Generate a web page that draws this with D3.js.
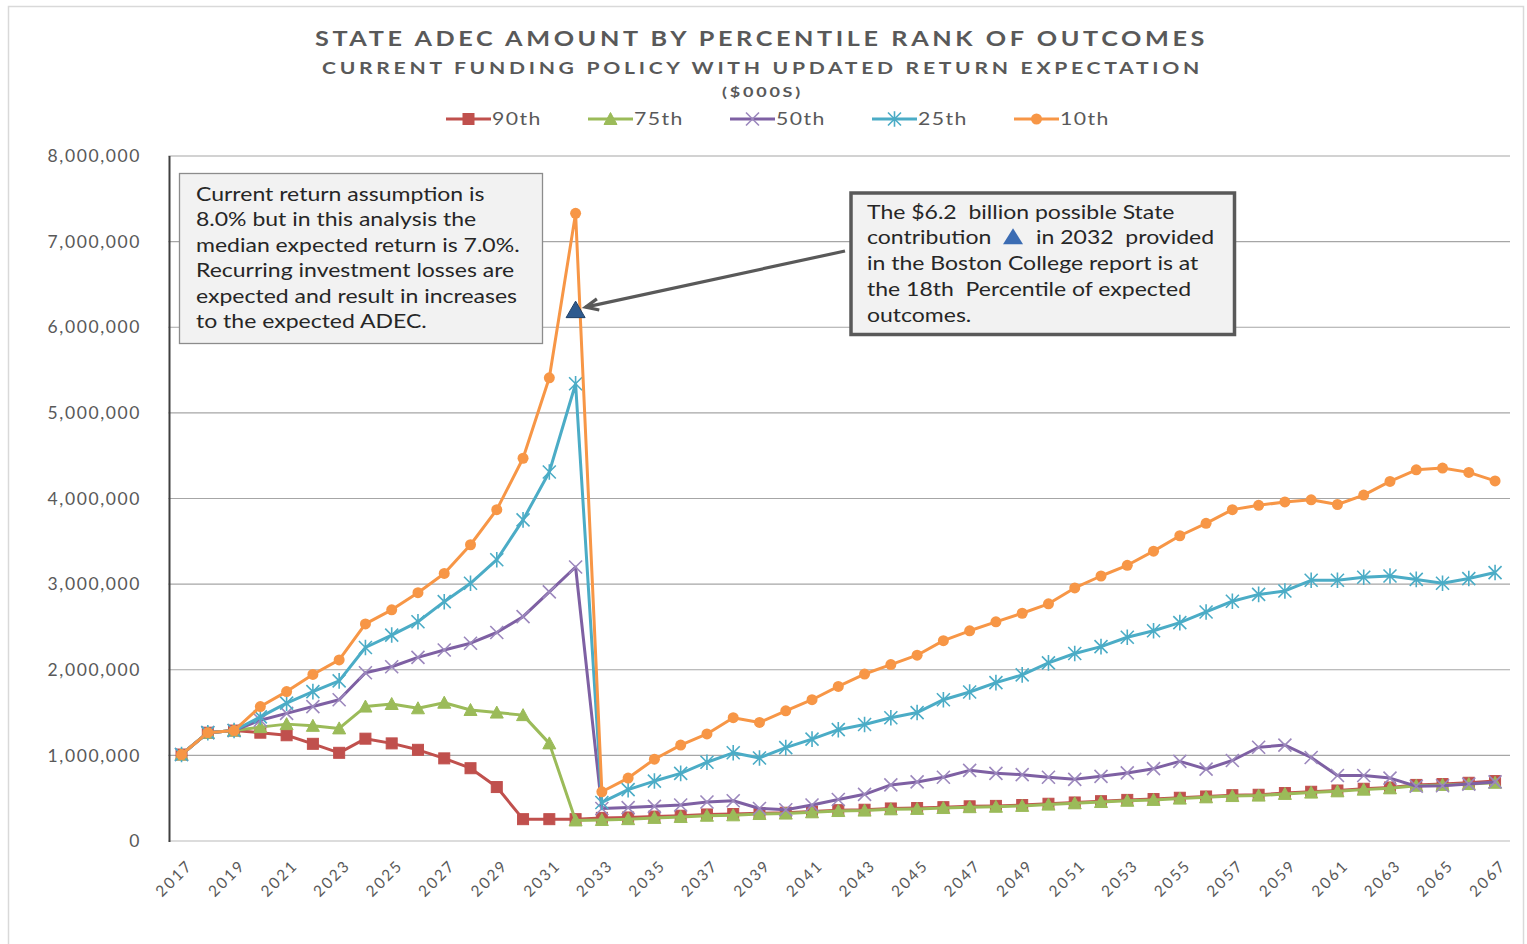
<!DOCTYPE html>
<html>
<head>
<meta charset="utf-8">
<script src="https://cdn.jsdelivr.net/npm/d3@7"></script>
<style>
  html, body { margin: 0; padding: 0; background: #ffffff; }
  svg { display: block; }
</style>
</head>
<body>
<svg id="chart" width="1527" height="944"></svg>
<script>
// ---------------- DATA ----------------
const years = [2017,2018,2019,2020,2021,2022,2023,2024,2025,2026,2027,2028,2029,2030,2031,2032,
  2033,2034,2035,2036,2037,2038,2039,2040,2041,2042,2043,2044,2045,2046,2047,2048,2049,2050,
  2051,2052,2053,2054,2055,2056,2057,2058,2059,2060,2061,2062,2063,2064,2065,2066,2067];

const p90 = [1010000,1265000,1290000,1265000,1235000,1135000,1030000,1195000,1140000,1065000,965000,850000,630000,255000,255000,255000,
  270000,275000,285000,295000,310000,315000,325000,330000,345000,360000,365000,380000,385000,395000,405000,410000,420000,435000,
  450000,465000,480000,490000,505000,520000,535000,540000,560000,575000,590000,610000,625000,655000,665000,680000,700000];

const p75 = [1010000,1265000,1290000,1330000,1365000,1345000,1315000,1570000,1600000,1550000,1615000,1530000,1500000,1470000,1140000,240000,
  245000,255000,270000,280000,295000,300000,315000,320000,335000,350000,355000,370000,375000,385000,395000,400000,410000,425000,
  440000,455000,470000,480000,495000,510000,525000,530000,550000,565000,580000,600000,615000,645000,655000,665000,680000];

const p50 = [1010000,1265000,1290000,1410000,1490000,1570000,1650000,1965000,2035000,2145000,2230000,2310000,2435000,2620000,2910000,3200000,
  380000,390000,405000,420000,455000,470000,380000,365000,420000,485000,545000,655000,690000,745000,825000,790000,775000,745000,
  720000,755000,795000,845000,930000,840000,940000,1095000,1120000,975000,765000,765000,735000,640000,645000,665000,690000];

const p25 = [1010000,1265000,1290000,1450000,1610000,1745000,1870000,2260000,2405000,2560000,2795000,3010000,3285000,3750000,4310000,5340000,
  450000,600000,700000,790000,920000,1030000,970000,1090000,1190000,1300000,1360000,1440000,1500000,1650000,1740000,1850000,1940000,2080000,
  2190000,2270000,2380000,2455000,2550000,2675000,2800000,2880000,2920000,3045000,3045000,3080000,3095000,3055000,3010000,3065000,3135000];

const p10 = [1010000,1265000,1290000,1570000,1745000,1945000,2115000,2535000,2700000,2900000,3125000,3460000,3870000,4470000,5410000,7330000,
  575000,735000,955000,1120000,1250000,1440000,1385000,1520000,1650000,1805000,1950000,2060000,2170000,2340000,2455000,2560000,2660000,2770000,
  2955000,3095000,3220000,3385000,3565000,3710000,3870000,3920000,3960000,3985000,3930000,4040000,4200000,4335000,4355000,4305000,4205000];

const seriesNames = ["90th","75th","50th","25th","10th"];
const yTicks = [0,1000000,2000000,3000000,4000000,5000000,6000000,7000000,8000000];
const xTickYears = years.filter((y,i) => i % 2 === 0);

const bcYear = 2032;
const bcValue = 6200000;

const titleText = "STATE ADEC AMOUNT BY PERCENTILE RANK OF OUTCOMES";
const subtitleText = "CURRENT FUNDING POLICY WITH UPDATED RETURN EXPECTATION";
const unitText = "($000S)";
const leftNote = ["Current return assumption is","8.0% but in this analysis the","median expected return is 7.0%.",
  "Recurring investment losses are","expected and result in increases","to the expected ADEC."];

// ---------------- STYLE ----------------
const colors = { "90th":"#c0504d", "75th":"#9bbb59", "50th":"#7e60a3", "25th":"#4bacc6", "10th":"#f79646" };
const markerKind = { "90th":"square", "75th":"triangle", "50th":"x", "25th":"star", "10th":"circle" };
const textGray = "#595959";
const font = "Lato, 'Open Sans', sans-serif";
const stretch = 1.18;

const svg = d3.select("#chart");

// outer chart border
svg.append("rect").attr("x",8.5).attr("y",6.5).attr("width",1515).attr("height",960)
  .attr("fill","#fff").attr("stroke","#d9d9d9").attr("stroke-width",1.5);

const plot = { left: 168.4, right: 1508.2, top: 156, bottom: 841 };

const x = d3.scalePoint().domain(years).range([plot.left, plot.right]).padding(0.5);
const y = d3.scaleLinear().domain([0, 8000000]).range([plot.bottom, plot.top]);

// gridlines
svg.append("g").selectAll("line").data(yTicks.filter(d => d > 0)).join("line")
  .attr("x1", plot.left).attr("x2", 1510)
  .attr("y1", d => y(d)).attr("y2", d => y(d))
  .attr("stroke","#a6a6a6").attr("stroke-width",1.2);

// x axis line
svg.append("line").attr("x1",plot.left).attr("x2",1510).attr("y1",y(0)).attr("y2",y(0))
  .attr("stroke","#d0d0d0").attr("stroke-width",1.5);

// y axis line
svg.append("line").attr("x1",169.5).attr("x2",169.5).attr("y1",plot.top).attr("y2",plot.bottom+1)
  .attr("stroke","#404040").attr("stroke-width",2);

// y tick labels
const fmt = d3.format(",");
svg.append("g").selectAll("text").data(yTicks).join("text")
  .attr("x", 141).attr("y", d => y(d)).attr("dy","0.35em")
  .attr("text-anchor","end")
  .attr("font-family", font).attr("font-size", 17.5).attr("letter-spacing", 1.6)
  .attr("fill", textGray)
  .text(d => fmt(d));

// x tick labels
svg.append("g").selectAll("text").data(xTickYears).join("text")
  .attr("transform", d => `translate(${x(d)+4},${858}) rotate(-45)`)
  .attr("text-anchor","end").attr("dy","0.75em")
  .attr("font-family", font).attr("font-size", 15.5).attr("letter-spacing", 2.2)
  .attr("fill", textGray)
  .text(d => d);

// marker generator
function drawMarker(g, kind, color, cx, cy, s) {
  s = s || 1;
  if (kind === "square") {
    g.append("rect").attr("x", cx-5.5*s).attr("y", cy-5.5*s).attr("width", 11*s).attr("height", 11*s)
      .attr("fill", color).attr("stroke", color).attr("stroke-width", 1);
  } else if (kind === "triangle") {
    g.append("path").attr("d", `M${cx},${cy-6.5*s}L${cx+6.5*s},${cy+5.5*s}L${cx-6.5*s},${cy+5.5*s}Z`)
      .attr("fill", color).attr("stroke", color).attr("stroke-width", 1);
  } else if (kind === "circle") {
    g.append("circle").attr("cx", cx).attr("cy", cy).attr("r", 5.5*s).attr("fill", color);
  } else if (kind === "x") {
    const r = 6.5*s;
    g.append("path").attr("d", `M${cx-r},${cy-r}L${cx+r},${cy+r}M${cx-r},${cy+r}L${cx+r},${cy-r}`)
      .attr("stroke", "#9c88bd").attr("stroke-width", 1.6).attr("fill","none");
  } else if (kind === "star") {
    const r = 6.5*s;
    g.append("path").attr("d", `M${cx-r},${cy-r}L${cx+r},${cy+r}M${cx-r},${cy+r}L${cx+r},${cy-r}M${cx},${cy-r*1.2}L${cx},${cy+r*1.2}`)
      .attr("stroke", color).attr("stroke-width", 1.6).attr("fill","none");
  }
}

// series
const seriesData = { "90th": p90, "75th": p75, "50th": p50, "25th": p25, "10th": p10 };
const line = d3.line().x((d,i) => x(years[i])).y(d => y(d));

seriesNames.forEach(name => {
  const vals = seriesData[name];
  const g = svg.append("g");
  g.append("path").datum(vals).attr("d", line)
    .attr("fill","none").attr("stroke", colors[name]).attr("stroke-width", 3)
    .attr("stroke-linejoin","round");
  vals.forEach((v,i) => drawMarker(g, markerKind[name], colors[name], x(years[i]), y(v)));
});

// legend
const legendItems = [
  { name: "90th", tx: 492 }, { name: "75th", tx: 634 }, { name: "50th", tx: 776 },
  { name: "25th", tx: 918 }, { name: "10th", tx: 1060 }
];
const ly = 119;
legendItems.forEach(it => {
  const g = svg.append("g");
  g.append("line").attr("x1", it.tx-46).attr("x2", it.tx-1).attr("y1", ly).attr("y2", ly)
    .attr("stroke", colors[it.name]).attr("stroke-width", 3);
  drawMarker(g, markerKind[it.name], colors[it.name], it.tx-23.5, ly);
  g.append("text").attr("transform", `translate(${it.tx},${ly}) scale(${stretch},1)`).attr("dy","0.36em")
    .attr("font-family", font).attr("font-size", 18).attr("letter-spacing", 1.2)
    .attr("fill", textGray).text(it.name);
});

// titles
svg.append("text").attr("x", 315).attr("y", 46).attr("textLength", 893).attr("lengthAdjust","spacingAndGlyphs")
  .attr("font-family", font).attr("font-weight","bold").attr("font-size", 21).attr("letter-spacing", 3)
  .attr("fill", textGray).text(titleText);
svg.append("text").attr("x", 322).attr("y", 74).attr("textLength", 881).attr("lengthAdjust","spacingAndGlyphs")
  .attr("font-family", font).attr("font-weight","bold").attr("font-size", 17).attr("letter-spacing", 3)
  .attr("fill", textGray).text(subtitleText);
svg.append("text").attr("x", 722).attr("y", 97).attr("textLength", 81).attr("lengthAdjust","spacingAndGlyphs")
  .attr("font-family", font).attr("font-weight","bold").attr("font-size", 13).attr("letter-spacing", 2)
  .attr("fill", textGray).text(unitText);

// left note box
svg.append("rect").attr("x", 179.5).attr("y", 173.5).attr("width", 363).attr("height", 170)
  .attr("fill","#f2f2f2").attr("stroke","#8c8c8c").attr("stroke-width",1.3);
svg.append("g").selectAll("text").data(leftNote).join("text")
  .attr("transform", (d,i) => `translate(196,${200.5 + i*25.5}) scale(${stretch},1)`)
  .attr("font-family", font).attr("font-size", 19.5)
  .attr("fill", "#262626").text(d => d);

// Boston College point marker
const bcx = x(bcYear), bcy = y(bcValue);
svg.append("path").attr("d", `M${bcx},${bcy-9}L${bcx+9.5},${bcy+7.5}L${bcx-9.5},${bcy+7.5}Z`)
  .attr("fill","#2e5a8e").attr("stroke","#1f3f66").attr("stroke-width",1);

// arrow
const ax1 = 845, ay1 = 251, ax2 = bcx + 10, ay2 = bcy - 3;
svg.append("line").attr("x1", ax1).attr("y1", ay1).attr("x2", ax2).attr("y2", ay2)
  .attr("stroke", "#595959").attr("stroke-width", 3.2);
{
  const ang = Math.atan2(ay1 - ay2, ax1 - ax2);
  const L = 14, w = 0.42;
  const p1 = [ax2 + L*Math.cos(ang+w), ay2 + L*Math.sin(ang+w)];
  const p2 = [ax2 + L*Math.cos(ang-w), ay2 + L*Math.sin(ang-w)];
  svg.append("path").attr("d", `M${p1[0]},${p1[1]}L${ax2},${ay2}L${p2[0]},${p2[1]}`)
    .attr("fill","none").attr("stroke","#595959").attr("stroke-width",3.2).attr("stroke-linejoin","miter");
}

// right note box
svg.append("rect").attr("x", 851).attr("y", 193).attr("width", 383.5).attr("height", 141.5)
  .attr("fill","#f2f2f2").attr("stroke","#595959").attr("stroke-width",3.5);
const rnX = 867, rnY0 = 218.5, rnDY = 25.8;
const rn = svg.append("g").attr("font-family", font).attr("font-size", 19.5).attr("fill","#262626");
function rnText(tx, ty, s) {
  rn.append("text").attr("transform", `translate(${tx},${ty}) scale(${stretch},1)`)
    .attr("xml:space","preserve").text(s);
}
rnText(rnX, rnY0, "The $6.2  billion possible State");
rnText(rnX, rnY0 + rnDY, "contribution");
svg.append("path").attr("d", `M${1013},${rnY0+rnDY-16}L${1023},${rnY0+rnDY}L${1003},${rnY0+rnDY}Z`)
  .attr("fill","#3b6cb3");
rnText(1036, rnY0 + rnDY, "in 2032  provided");
rnText(rnX, rnY0 + 2*rnDY, "in the Boston College report is at");
rnText(rnX, rnY0 + 3*rnDY, "the 18th  Percentile of expected");
rnText(rnX, rnY0 + 4*rnDY, "outcomes.");
</script>
</body>
</html>
